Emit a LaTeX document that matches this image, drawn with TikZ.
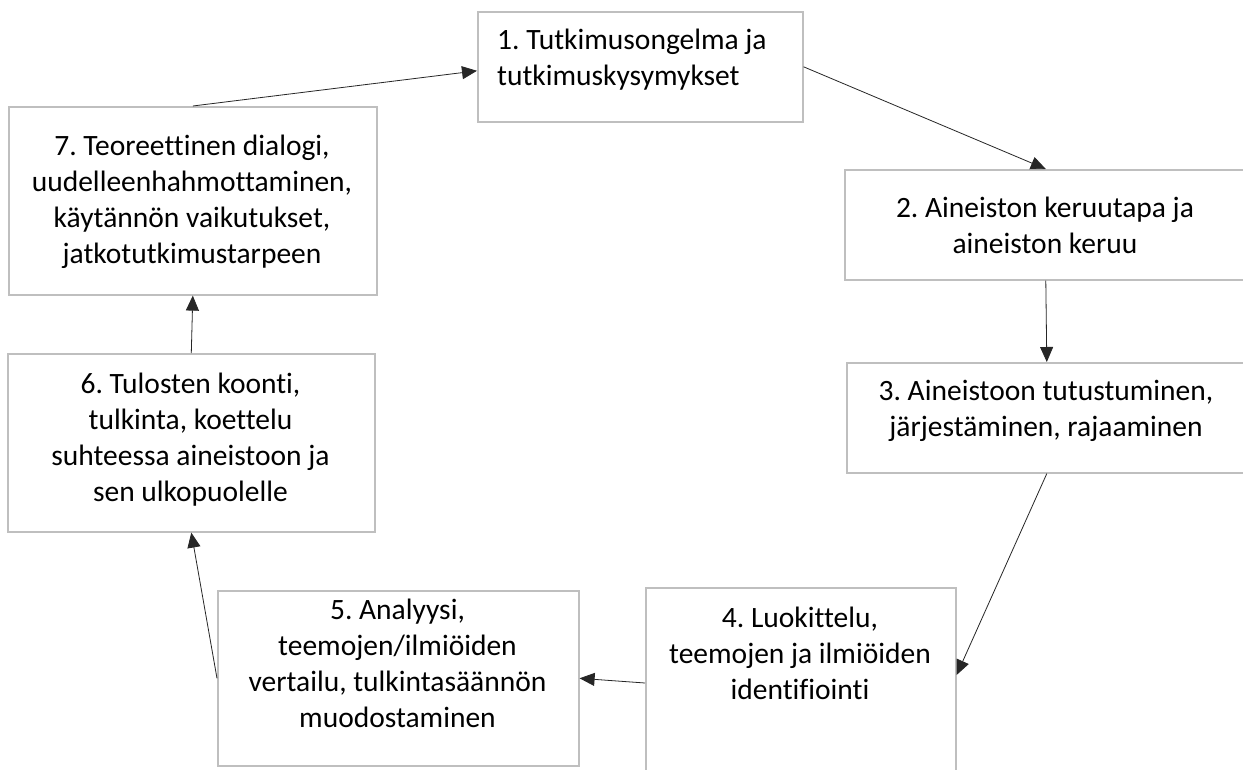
\documentclass[tikz,border=0pt]{standalone}
\usepackage{fontspec}
\setmainfont{Carlito}[Ligatures=NoCommon]
\frenchspacing
\usetikzlibrary{arrows.meta}
\definecolor{boxgray}{RGB}{191,191,191}
\tikzset{
  stepbox/.style={draw=boxgray, line width=1.6pt, inner sep=0pt, anchor=north west},
  lbl/.style={font=\fontsize{29.5}{36}\selectfont, align=center, inner sep=0pt, anchor=north},
  arr/.style={-{Triangle[length=15pt,width=13pt]}, line width=0.8pt, draw=black!85}
}
\begin{document}
\begin{tikzpicture}[x=1pt,y=-1pt]
\useasboundingbox (0,0) rectangle (1243,769);
\path[clip] (0,0) rectangle (1243,769);
\fill[white] (0,0) rectangle (1243,769);
% boxes
\node[stepbox, minimum width=325pt, minimum height=110pt] (b1) at (477,11) {};
\node[stepbox, minimum width=402pt, minimum height=110pt] (b2) at (844,169) {};
\node[stepbox, minimum width=400pt, minimum height=110pt] (b3) at (846,362) {};
\node[stepbox, minimum width=310pt, minimum height=203pt] (b4) at (645,587) {};
\node[stepbox, minimum width=361pt, minimum height=175pt] (b5) at (217,590) {};
\node[stepbox, minimum width=367pt, minimum height=178pt] (b6) at (7,353) {};
\node[stepbox, minimum width=368pt, minimum height=188pt] (b7) at (8,106) {};
% texts
\node[lbl, anchor=north west, align=left] (t1) at (497,23.8) {\strut 1. Tutkimusongelma ja\\tutkimuskysymykset};
\node[lbl] (t2) at (1045,191.8) {\strut 2. Aineiston keruutapa ja\\aineiston keruu};
\node[lbl] (t3) at (1046,374.8) {\strut 3. Aineistoon tutustuminen,\\järjestäminen, rajaaminen};
\node[lbl] (t4) at (800,602.3) {\strut 4. Luokittelu,\\teemojen ja ilmiöiden\\identifiointi};
\node[lbl] (t5) at (397.5,593.8) {\strut 5. Analyysi,\\teemojen/ilmiöiden\\vertailu, tulkintasäännön\\muodostaminen};
\node[lbl] (t6) at (190.5,367.8) {\strut 6. Tulosten koonti,\\tulkinta, koettelu\\suhteessa aineistoon ja\\sen ulkopuolelle};
\node[lbl] (t7) at (192,129.8) {\strut 7. Teoreettinen dialogi,\\uudelleenhahmottaminen,\\käytännön vaikutukset,\\jatkotutkimustarpeen};
% connectors
\draw[arr] (b1.east) -- (b2.north);
\draw[arr] (b2.south) -- (b3.north);
\draw[arr] (b3.south) -- ([yshift=-88pt]b4.north east);
\draw[arr] ([yshift=-96pt]b4.north west) -- (b5.east);
\draw[arr] (b5.west) -- (b6.south);
\draw[arr] (b6.north) -- (b7.south);
\draw[arr] (b7.north) -- ([yshift=-4pt]b1.west);
\end{tikzpicture}
\end{document}
